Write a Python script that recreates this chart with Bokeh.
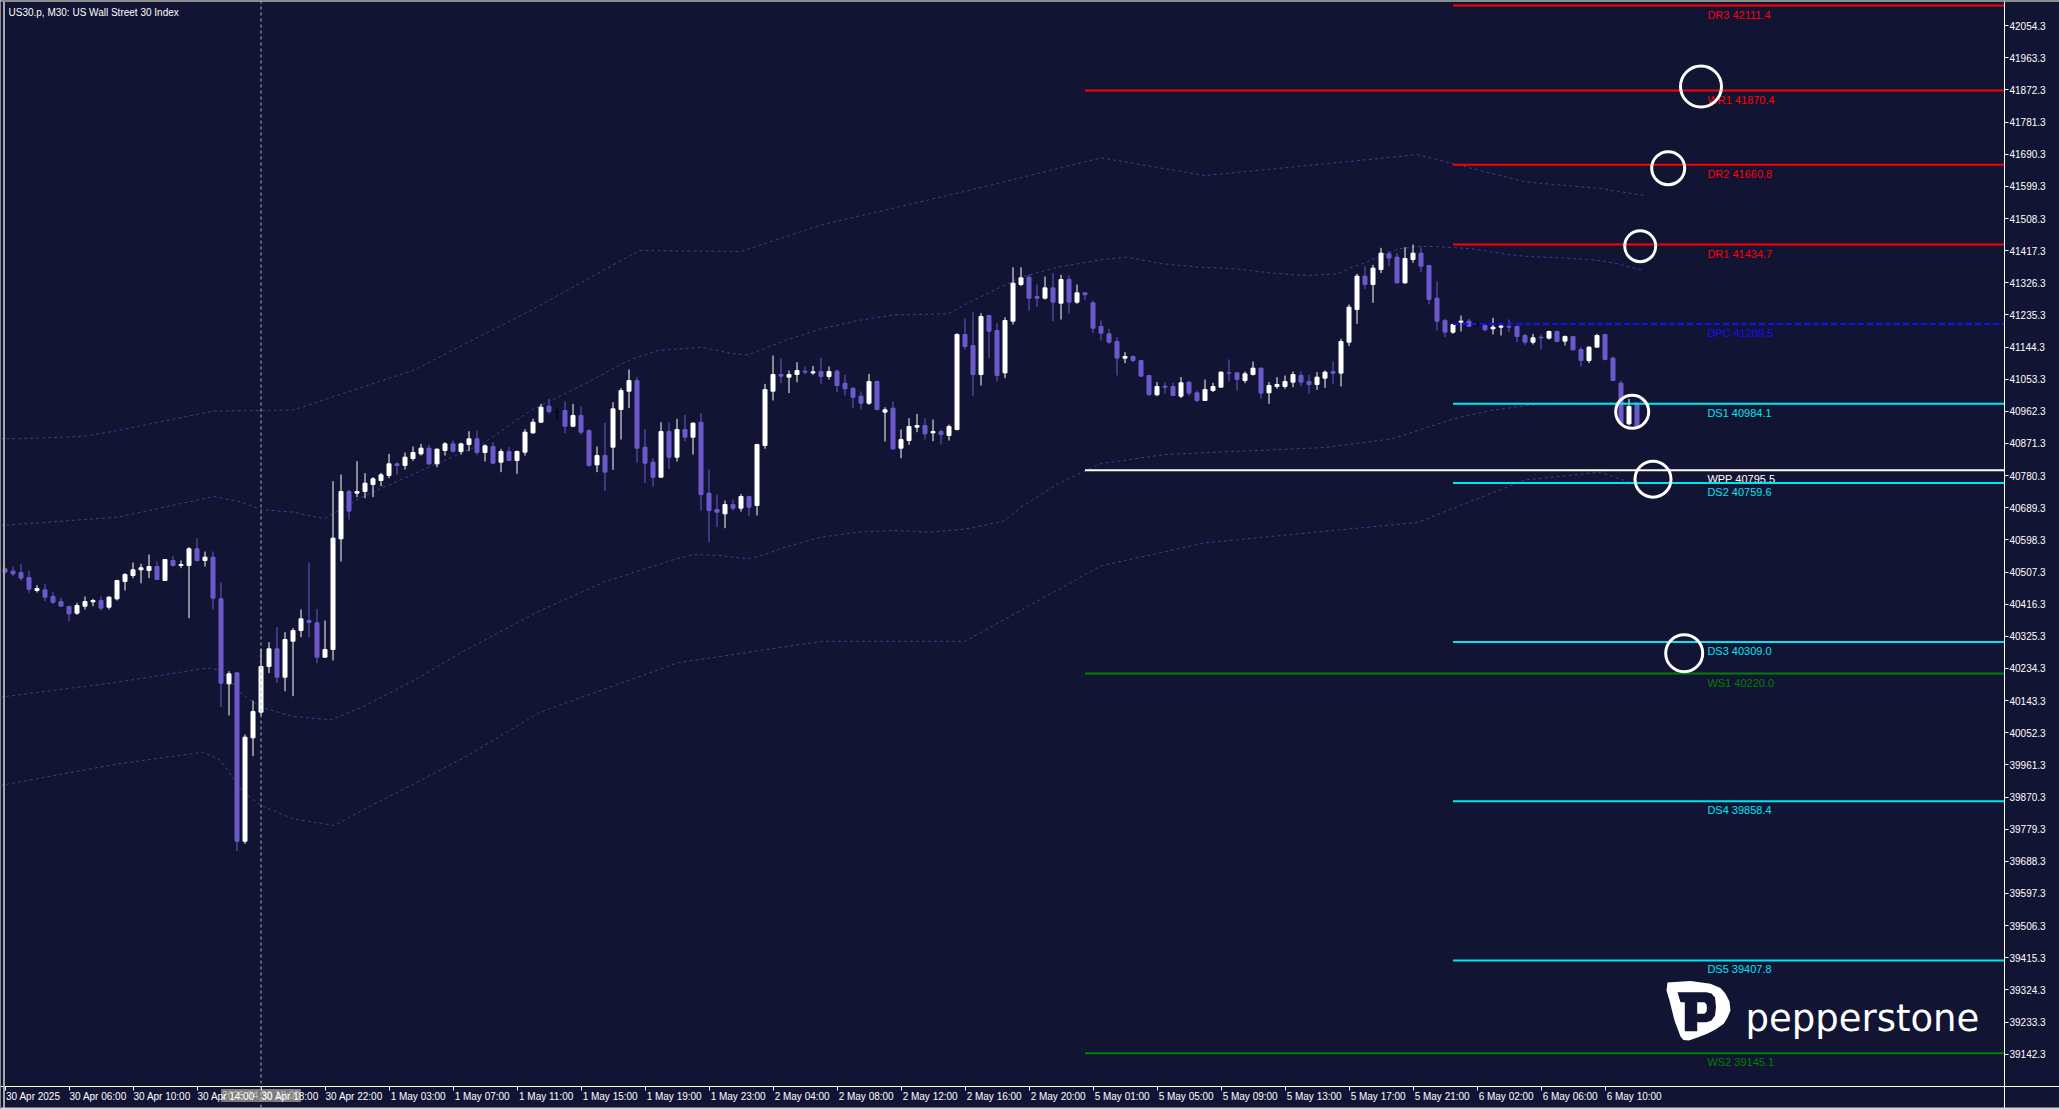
import numpy as np
from bokeh.plotting import figure
from bokeh.models import (Range1d, FixedTicker, NumeralTickFormatter, Label,
                          PolyAnnotation, Span)
from bokeh.embed import file_html
from bokeh.resources import INLINE
from bokeh.core.properties import value

# ---------------- data ----------------
x_label_bars = [0, 8, 16, 24, 32, 40, 48, 56, 64, 72, 80, 88, 96, 104, 112, 120,
                128, 136, 144, 152, 160, 168, 176, 184, 192, 200]
x_labels = ["30 Apr 2025", "30 Apr 06:00", "30 Apr 10:00", "30 Apr 14:00", "30 Apr 18:00",
            "30 Apr 22:00", "1 May 03:00", "1 May 07:00", "1 May 11:00", "1 May 15:00",
            "1 May 19:00", "1 May 23:00", "2 May 04:00", "2 May 08:00", "2 May 12:00",
            "2 May 16:00", "2 May 20:00", "5 May 01:00", "5 May 05:00", "5 May 09:00",
            "5 May 13:00", "5 May 17:00", "5 May 21:00", "6 May 02:00", "6 May 06:00",
            "6 May 10:00"]
y_ticks = [42054.3, 41963.3, 41872.3, 41781.3, 41690.3, 41599.3, 41508.3, 41417.3,
           41326.3, 41235.3, 41144.3, 41053.3, 40962.3, 40871.3, 40780.3, 40689.3,
           40598.3, 40507.3, 40416.3, 40325.3, 40234.3, 40143.3, 40052.3, 39961.3,
           39870.3, 39779.3, 39688.3, 39597.3, 39506.3, 39415.3, 39324.3, 39233.3, 39142.3]

bar_open = [40516.4, 40509.8, 40506.0, 40491.9, 40455.1, 40457.0, 40438.1, 40423.9, 40409.8, 40390.9,
            40410.7, 40423.0, 40426.8, 40407.9, 40431.5, 40480.6, 40497.5, 40513.6, 40511.7, 40523.0,
            40483.4, 40540.0, 40525.9, 40525.9, 40573.1, 40540.0, 40549.5, 40431.5, 40190.8, 40222.0,
            39745.3, 40037.9, 40110.6, 40239.9, 40289.9, 40209.7, 40311.6, 40341.8, 40370.1, 40363.5,
            40266.3, 40288.0, 40601.4, 40735.4, 40730.7, 40735.4, 40755.2, 40766.5, 40780.7, 40813.7,
            40809.0, 40828.8, 40842.0, 40858.1, 40813.7, 40851.5, 40870.3, 40848.6, 40868.5, 40884.5,
            40845.8, 40862.8, 40818.4, 40848.6, 40823.2, 40846.7, 40901.4, 40931.6, 40976.9, 40961.8,
            40964.7, 40920.3, 40950.5, 40908.0, 40810.8, 40837.3, 40860.9, 40967.5, 41019.4, 41049.6,
            40860.9, 40818.4, 40775.9, 40905.2, 40832.5, 40910.9, 40889.2, 40931.6, 40730.6, 40684.4,
            40672.1, 40698.5, 40688.1, 40721.2, 40695.7, 40865.6, 41019.4, 41066.6, 41059.1, 41066.6,
            41076.0, 41071.3, 41075.1, 41061.0, 41076.0, 41042.1, 41027.9, 41005.3, 40985.4, 41046.8,
            40960.0, 40971.3, 40858.0, 40879.7, 40917.5, 40922.2, 40901.4, 40905.2, 40893.9, 40910.9,
            41179.9, 41148.7, 41066.6, 41233.7, 41191.2, 41071.3, 41217.6, 41321.4, 41342.2, 41287.5,
            41282.7, 41312.0, 41268.6, 41335.6, 41271.4, 41297.8, 41269.5, 41202.6, 41181.8, 41160.1,
            41113.0, 41117.6, 41106.3, 41063.8, 41009.1, 41033.6, 41032.7, 41005.3, 41045.0, 41014.8,
            40993.1, 41021.4, 41030.8, 41071.4, 41071.4, 41049.7, 41066.7, 41084.6, 41014.8, 41032.7,
            41032.7, 41045.0, 41063.8, 41046.9, 41038.4, 41056.3, 41075.2, 41070.5, 41158.2, 41250.7,
            41345.1, 41321.5, 41364.0, 41408.3, 41398.9, 41326.2, 41392.3, 41410.2, 41375.3, 41282.8,
            41219.6, 41186.5, 41214.9, 41217.7, 41208.2, 41205.4, 41196.0, 41200.7, 41202.6, 41202.6,
            41177.1, 41158.2, 41172.4, 41169.6, 41188.4, 41161.1, 41174.3, 41137.5, 41106.3, 41144.1,
            41179.9, 41113.0, 41042.1, 40927.0, 40981.7]
bar_high = [40521.1, 40523.0, 40530.6, 40510.8, 40470.2, 40474.0, 40450.4, 40434.3, 40412.6, 40420.2,
            40438.1, 40431.5, 40438.1, 40439.0, 40485.3, 40504.2, 40534.4, 40530.6, 40557.0, 40537.2,
            40543.8, 40552.3, 40540.0, 40577.8, 40603.3, 40565.5, 40565.5, 40478.7, 40226.7, 40222.0,
            40047.4, 40143.6, 40289.9, 40308.8, 40351.3, 40337.1, 40348.4, 40401.3, 40534.4, 40403.2,
            40370.1, 40764.6, 40783.5, 40740.1, 40821.3, 40787.3, 40776.0, 40788.2, 40842.0, 40818.4,
            40845.8, 40862.8, 40870.3, 40868.5, 40857.1, 40875.1, 40879.8, 40873.2, 40906.2, 40908.1,
            40868.5, 40875.1, 40856.2, 40860.9, 40851.5, 40912.0, 40941.1, 40983.6, 40997.7, 40974.1,
            40990.2, 40983.6, 40976.9, 40912.0, 40862.7, 40929.8, 40988.3, 41027.9, 41080.8, 41059.1,
            40912.8, 40829.7, 40931.6, 40931.6, 40941.1, 40952.4, 40931.6, 40958.1, 40797.6, 40726.8,
            40709.8, 40712.7, 40728.7, 40724.0, 40870.3, 41040.2, 41120.4, 41112.9, 41077.9, 41101.5,
            41089.3, 41091.1, 41113.8, 41089.3, 41080.8, 41065.7, 41030.7, 41018.5, 41068.5, 41049.6,
            40974.1, 40990.2, 40910.9, 40943.0, 40955.2, 40943.0, 40939.2, 40910.9, 40925.0, 41183.6,
            41226.1, 41243.1, 41240.3, 41235.5, 41211.9, 41228.9, 41370.5, 41370.5, 41349.7, 41321.4,
            41344.1, 41354.5, 41348.8, 41346.9, 41321.4, 41299.7, 41276.2, 41219.6, 41196.0, 41172.4,
            41129.9, 41120.5, 41108.2, 41065.7, 41045.0, 41045.0, 41043.1, 41059.1, 41047.8, 41021.4,
            41052.5, 41043.1, 41075.2, 41109.2, 41073.3, 41075.2, 41103.5, 41086.0, 41045.0, 41059.1,
            41063.8, 41075.2, 41075.2, 41065.7, 41073.3, 41078.0, 41103.5, 41167.7, 41264.9, 41351.7,
            41373.4, 41377.2, 41425.3, 41414.9, 41411.2, 41427.2, 41434.8, 41427.2, 41377.2, 41330.0,
            41224.3, 41210.1, 41233.7, 41224.3, 41217.7, 41207.3, 41227.1, 41210.1, 41222.4, 41205.4,
            41181.8, 41181.8, 41179.9, 41191.3, 41191.3, 41177.1, 41175.2, 41144.1, 41146.9, 41181.8,
            41181.8, 41117.6, 41049.7, 40997.8, 40988.3]
bar_low = [40504.2, 40495.7, 40483.4, 40448.5, 40449.4, 40424.9, 40417.3, 40409.8, 40368.2, 40386.2,
           40401.3, 40410.7, 40398.4, 40401.3, 40426.8, 40455.1, 40490.0, 40475.8, 40490.0, 40485.3,
           40482.5, 40523.0, 40518.3, 40376.7, 40537.2, 40523.0, 40401.3, 40124.7, 40101.2, 39717.0,
           39737.8, 39986.0, 40101.2, 40221.0, 40192.7, 40170.0, 40155.9, 40322.9, 40322.9, 40249.3,
           40264.4, 40256.9, 40537.2, 40656.1, 40719.3, 40716.5, 40719.3, 40750.5, 40773.1, 40782.6,
           40797.7, 40822.2, 40837.3, 40809.9, 40804.3, 40837.3, 40845.8, 40840.1, 40849.6, 40839.2,
           40820.3, 40813.7, 40790.1, 40821.3, 40785.4, 40837.3, 40898.6, 40929.8, 40955.2, 40936.4,
           40900.5, 40917.5, 40895.8, 40805.0, 40790.1, 40736.3, 40796.7, 40882.6, 40971.3, 40817.4,
           40758.9, 40749.5, 40774.0, 40799.5, 40820.3, 40877.8, 40840.1, 40681.5, 40591.9, 40634.3,
           40631.5, 40681.5, 40678.7, 40665.5, 40667.4, 40856.3, 40993.0, 41042.1, 41013.8, 41044.9,
           41066.6, 41065.7, 41040.2, 41052.5, 41016.6, 41007.2, 40971.3, 40967.5, 40980.7, 40964.7,
           40876.9, 40853.3, 40829.7, 40867.5, 40903.3, 40882.6, 40877.8, 40868.4, 40879.7, 40908.0,
           41137.4, 41005.3, 41035.5, 41112.9, 41046.8, 41056.2, 41208.2, 41316.7, 41247.8, 41257.3,
           41279.0, 41217.6, 41222.3, 41238.4, 41266.7, 41278.0, 41184.7, 41162.9, 41153.5, 41063.8,
           41098.8, 41101.6, 41060.0, 41005.3, 41005.3, 41011.9, 41005.3, 40999.7, 41005.3, 40988.4,
           40992.0, 41016.7, 41029.0, 41046.9, 41021.4, 41042.1, 41063.8, 40997.8, 40983.6, 41026.1,
           41026.1, 41030.8, 41033.6, 41011.9, 41023.3, 41028.9, 41040.3, 41032.7, 41146.9, 41210.1,
           41309.2, 41269.6, 41353.6, 41373.4, 41323.4, 41323.4, 41382.9, 41356.4, 41264.9, 41191.3,
           41172.4, 41181.8, 41188.4, 41200.7, 41200.7, 41189.4, 41179.9, 41177.1, 41186.5, 41158.2,
           41150.7, 41151.6, 41137.5, 41165.8, 41158.2, 41148.8, 41134.6, 41089.3, 41098.8, 41142.2,
           41106.3, 41047.8, 40922.3, 40922.3, 40912.8]
bar_close = [40507.0, 40502.3, 40490.0, 40458.9, 40460.7, 40436.2, 40422.0, 40410.7, 40389.0, 40412.6,
             40423.9, 40426.8, 40405.1, 40436.2, 40483.4, 40500.4, 40513.6, 40519.3, 40523.0, 40486.2,
             40542.9, 40525.9, 40528.7, 40573.1, 40540.0, 40549.5, 40433.4, 40192.7, 40219.1, 39745.3,
             40039.8, 40112.5, 40239.9, 40289.9, 40209.7, 40316.3, 40341.8, 40374.9, 40364.5, 40266.3,
             40288.0, 40603.3, 40735.4, 40679.7, 40735.4, 40759.0, 40771.2, 40782.6, 40813.7, 40809.0,
             40832.6, 40845.8, 40858.1, 40813.7, 40855.2, 40870.3, 40849.6, 40870.3, 40884.5, 40845.8,
             40864.7, 40815.6, 40848.6, 40823.2, 40848.6, 40903.4, 40931.6, 40974.1, 40961.8, 40961.8,
             40920.3, 40950.5, 40903.3, 40808.9, 40837.3, 40790.1, 40969.4, 41021.3, 41049.6, 40858.0,
             40815.5, 40775.9, 40905.2, 40832.5, 40910.9, 40889.2, 40928.8, 40726.8, 40681.5, 40676.8,
             40698.5, 40688.1, 40721.2, 40691.0, 40868.4, 41024.1, 41066.6, 41061.9, 41066.6, 41077.9,
             41073.2, 41074.2, 41061.0, 41075.1, 41035.5, 41026.0, 41002.4, 40985.4, 41046.8, 40967.5,
             40966.6, 40856.1, 40882.6, 40919.4, 40922.2, 40898.6, 40905.2, 40896.7, 40919.4, 41179.9,
             41145.9, 41066.6, 41230.8, 41189.3, 41063.8, 41219.5, 41325.2, 41340.3, 41282.7, 41282.7,
             41312.0, 41271.4, 41335.6, 41271.4, 41297.8, 41292.2, 41197.8, 41183.7, 41158.2, 41113.0,
             41117.6, 41106.3, 41062.0, 41010.0, 41032.7, 41030.8, 41007.2, 41043.1, 41013.8, 40993.1,
             41024.2, 41032.7, 41073.3, 41070.5, 41052.5, 41068.6, 41084.6, 41013.8, 41035.5, 41038.4,
             41046.9, 41066.7, 41045.0, 41038.4, 41059.1, 41073.3, 41070.5, 41160.1, 41257.3, 41345.1,
             41321.5, 41367.8, 41410.2, 41396.1, 41326.2, 41395.1, 41410.2, 41373.4, 41279.0, 41217.7,
             41186.5, 41208.2, 41217.7, 41203.5, 41208.2, 41193.1, 41200.7, 41203.5, 41200.7, 41174.3,
             41158.2, 41170.5, 41170.5, 41188.4, 41160.1, 41174.3, 41136.5, 41106.3, 41144.1, 41177.1,
             41109.2, 41049.7, 40927.0, 40976.1, 40919.5]

# envelope (band) lines: bar position and price
band_uo_x = [-0.6, 5, 10, 14.1, 26, 36, 51, 65.7, 79.3, 92, 102, 120, 137, 150, 176.6, 190, 199.4, 204.8]
band_uo_y = [40884.5, 40887.0, 40892.0, 40908.0, 40963.0, 40966.0, 41078.0, 41247.8, 41417.7, 41415.0,
             41490.0, 41585.0, 41680.0, 41630.0, 41689.0, 41612.0, 41593.3, 41573.5]
band_ui_x = [-0.6, 14.1, 26.1, 29.6, 32.0, 36.0, 39.9, 44.6, 51.1, 59.7, 65.7, 72.5, 77.9, 81.6, 87.0,
             91.1, 92.9, 97.5, 102.0, 106.6, 111.1, 117.9, 120.2, 127.0, 131.6, 136.9, 140.2, 144.8,
             149.3, 153.9, 158.4, 162.9, 166.6, 168.4, 170.2, 172.0, 174.3, 176.6, 178.8, 183.4, 187.9,
             190.2, 194.7, 199.3, 201.6, 204.8]
band_ui_y = [40639.1, 40662.7, 40721.2, 40705.2, 40684.4, 40676.9, 40658.0, 40719.3, 40785.4, 40870.3,
             40964.7, 41040.2, 41106.2, 41134.6, 41144.0, 41125.1, 41122.3, 41162.9, 41195.9, 41219.5,
             41235.5, 41238.4, 41266.7, 41342.2, 41370.5, 41391.3, 41398.9, 41380.0, 41370.6, 41365.9,
             41353.6, 41347.0, 41351.7, 41370.6, 41384.7, 41403.6, 41422.5, 41429.1, 41429.1, 41422.5,
             41406.4, 41400.8, 41397.0, 41389.5, 41380.0, 41361.1]
band_li_x = [-0.6, 14.1, 25.3, 27.0, 29.6, 32.0, 36.0, 40.8, 44.6, 51.1, 57.5, 66.9, 75.0, 83.9, 86.1,
             89.3, 92.9, 95.2, 97.5, 102.0, 106.6, 111.1, 115.7, 120.2, 124.8, 127.0, 131.6, 136.9,
             145, 155, 165, 173.4, 176.6, 181.1, 185.7, 190.2, 193.9, 199.3, 204.8]
band_li_y = [40153.1, 40195.5, 40236.1, 40228.6, 40162.5, 40124.7, 40098.3, 40088.9, 40124.7, 40200.3,
             40285.2, 40398.4, 40480.0, 40544.7, 40557.0, 40554.1, 40544.7, 40558.8, 40577.7, 40606.0,
             40620.2, 40624.9, 40620.2, 40629.6, 40651.3, 40691.0, 40757.0, 40813.7, 40840.0, 40850.0,
             40860.0, 40884.5, 40908.1, 40941.2, 40964.7, 40978.9, 40985.5, 40985.5, 40990.0]
band_lo_x = [-0.6, 14.1, 24.8, 27.0, 29.6, 32.0, 36.0, 41.2, 44.6, 51.1, 57.5, 66.9, 84, 102, 120, 137,
             150, 176.6, 190, 199.4, 203.6]
band_lo_y = [39903.0, 39964.3, 39997.4, 39973.7, 39888.8, 39846.3, 39808.6, 39789.7, 39832.2, 39907.7,
             39983.2, 40110.6, 40250.0, 40311.0, 40311.0, 40525.0, 40590.0, 40648.0, 40768.0, 40790.1,
             40757.1]

# pivot levels
level_name = ["DR3", "WR1", "DR2", "DR1", "DPC", "DS1", "WPP", "DS2", "DS3", "WS1", "DS4", "DS5", "WS2"]
level_price = [42111.4, 41870.4, 41660.8, 41434.7, 41209.5, 40984.1, 40795.5, 40759.6, 40309.0,
               40220.0, 39858.4, 39407.8, 39145.1]
level_period = ["D", "W", "D", "D", "D", "D", "W", "D", "D", "W", "D", "D", "W"]
period_start_bar = {"D": 181, "W": 135}

# highlighted levels (circle markers)
mark_bar = [212.0, 207.9, 204.4, 203.4, 206.0, 209.9]
mark_price = [41882.1, 41650.7, 41429.9, 40961.0, 40770.2, 40277.6]
mark_diam = [41, 33, 31, 33, 36, 37]

separator_bar = 32
separator_text = "2025.04.30 18:00"

# ---------------- style / layout ----------------
BG = "#121433"
BULL = "#ffffff"
BEAR = "#6a5acd"
DOJI = "#000000"
BAND = "#403c90"
FONT = "Liberation Sans"

W, H = 2059, 1109             # canvas == window; plot frame fills it
CHART_R, CHART_B = 2004, 1086  # chart window edges (pixels) where the axes sit
PX_PER_BAR = 8.0
PRICE_PER_PX = 2.8313


def bar_at(px):               # pixel column -> bar position
    return (px - 4.5) / PX_PER_BAR


def price_at(py):             # pixel row -> price
    return 42111.4 - (py - 5) * PRICE_PER_PX


X0, X1 = bar_at(0), bar_at(W)
Y_TOP, Y_BOT = price_at(0), price_at(H)
X_AXIS_AT = price_at(CHART_B)
Y_AXIS_AT = bar_at(CHART_R)


def sx(px):                   # pixel -> frame screen x
    return px


def sy(py):                   # pixel -> frame screen y (from bottom)
    return H - py


ADV = {" ": 278, ":": 278, "A": 667, "M": 833, "p": 556, "r": 333, "a": 556, "y": 500}


def left_aligned(label, first=False, size=10.0):
    if first:
        return "\u00a0\u00a0" + label
    w = sum(ADV.get(ch, 556) for ch in label) * size / 1000.0
    n = int(round((w + 2.0) / (0.278 * size)))
    return "\u00a0" * n + label


p = figure(width=W, height=H, output_backend="svg", toolbar_location=None,
           x_range=Range1d(X0, X1), y_range=Range1d(Y_BOT, Y_TOP),
           y_axis_location="right",
           min_border_left=0, min_border_top=0, min_border_right=0, min_border_bottom=0,
           background_fill_color=BG, border_fill_color=BG, outline_line_color=None)
p.grid.visible = False

for ax in (p.xaxis[0], p.yaxis[0]):
    ax.axis_line_color = "white"
    ax.axis_line_width = 1
    ax.major_tick_line_color = "white"
    ax.major_tick_in = 0
    ax.major_tick_out = 4
    ax.minor_tick_line_color = None
    ax.major_label_text_color = "white"
    ax.major_label_text_font = FONT
    ax.major_label_text_font_size = "10px"
    ax.major_label_standoff = 1

p.xaxis.fixed_location = X_AXIS_AT
p.yaxis.fixed_location = Y_AXIS_AT
p.xaxis.major_label_standoff = 0
p.yaxis.ticker = FixedTicker(ticks=y_ticks)
p.yaxis.formatter = NumeralTickFormatter(format="0.0")
p.xaxis.ticker = FixedTicker(ticks=x_label_bars)
p.xaxis.major_label_overrides = {b: left_aligned(t, i == 0)
                                 for i, (b, t) in enumerate(zip(x_label_bars, x_labels))}

# window border lines
p.add_layout(Span(location=bar_at(3.5), dimension="height", line_color="#a8a8a8", line_width=2))
p.add_layout(Span(location=price_at(0.5), dimension="width", line_color="#8c8c8c", line_width=2))
p.add_layout(Span(location=price_at(1108), dimension="width", line_color="#d4d4d4", line_width=2))

# separator line
p.add_layout(Span(location=separator_bar, dimension="height", line_color="#b0b0b0",
                  line_dash="3 3", line_width=1))

# bands
for bx, by in ((band_uo_x, band_uo_y), (band_ui_x, band_ui_y),
               (band_li_x, band_li_y), (band_lo_x, band_lo_y)):
    p.line(bx, by, line_color=BAND, line_width=1, line_dash="3 3")

# candles
o = np.array(bar_open)
c = np.array(bar_close)
hi = np.array(bar_high)
lo = np.array(bar_low)
xb = np.arange(len(o))
col = [BULL if cc > oo else (BEAR if cc < oo else DOJI) for oo, cc in zip(o, c)]
p.segment(x0=xb, y0=lo, x1=xb, y1=hi, line_color=col, line_width=1)
p.vbar(x=xb, width=0.5, top=np.maximum(o, c), bottom=np.minimum(o, c),
       fill_color=col, line_color=col, line_width=1)

# pivot levels
lvl_color = {"DR": "#ff0000", "WR": "#ff0000", "DP": "#1010ff", "DS": "#00e6f0",
             "WP": "#ffffff", "WS": "#008000"}
for name, price, per in zip(level_name, level_price, level_period):
    colr = lvl_color[name[:2]]
    dash = "6 3" if name == "DPC" else "solid"
    p.segment(x0=[period_start_bar[per]], y0=[price], x1=[Y_AXIS_AT], y1=[price],
              line_color=colr, line_width=2, line_dash=dash)
    p.text(x=[212.8], y=[price], text=[f"{name} {price:.1f}"], text_color=colr,
           text_font=value(FONT), text_font_size="11px", text_baseline="top",
           text_align="left", y_offset=3)

# highlight circles
p.scatter(x=mark_bar, y=mark_price, size=mark_diam, marker="circle", fill_color=None,
          line_color="white", line_width=3)

# separator date box on the time scale (drawn beneath the axis labels)
p.add_layout(Label(x=separator_bar, y=sy(1095), x_units="data", y_units="screen",
                   text=separator_text, text_color="#bdbdbd", text_font=FONT,
                   text_font_size="10px", text_align="center", text_baseline="middle",
                   background_fill_color="#7c7c7c", background_fill_alpha=1.0, padding=1,
                   level="underlay"))

# title
p.add_layout(Label(x=sx(8), y=sy(11.7), x_units="screen", y_units="screen",
                   text="US30.p, M30:  US Wall Street 30 Index", text_color="white",
                   text_font=FONT, text_font_size="10px", text_baseline="middle"))

# logo (pixel outline)
pick = [(1667, 982), (1690, 980.5), (1710, 983.3), (1720, 987.5), (1725, 993.3), (1729, 1001),
        (1730, 1010), (1727, 1017), (1723.3, 1023.3), (1715, 1029), (1706.7, 1033.3),
        (1697, 1037), (1688.3, 1040), (1683, 1039.5), (1680, 1036), (1674, 1020), (1669, 1000),
        (1666, 990)]
p_outer = [(1677, 991.7), (1706, 991.7), (1711, 993), (1714.5, 997), (1715.5, 1006.5),
           (1714.5, 1015), (1711, 1020), (1706, 1021.7), (1696.7, 1021.7), (1696.7, 1030.7),
           (1684.3, 1030.7), (1684.3, 1001.7), (1680, 1001.7)]
p_hole = [(1696.7, 1001.7), (1704, 1001.7), (1706, 1004), (1706.5, 1007.5), (1706, 1011),
          (1704, 1013.3), (1696.7, 1013.3)]
for shape, fc in ((pick, "white"), (p_outer, BG), (p_hole, "white")):
    p.add_layout(PolyAnnotation(xs=[sx(a) for a, b in shape], ys=[sy(b) for a, b in shape],
                                xs_units="screen", ys_units="screen",
                                fill_color=fc, fill_alpha=1.0, line_color=None))
p.add_layout(Label(x=sx(1745), y=sy(1018), x_units="screen", y_units="screen",
                   text="pepperstone", text_color="white", text_font="DejaVu Sans",
                   text_font_size="37px", text_baseline="alphabetic"))

open("out.html", "w").write(file_html(p, INLINE))
